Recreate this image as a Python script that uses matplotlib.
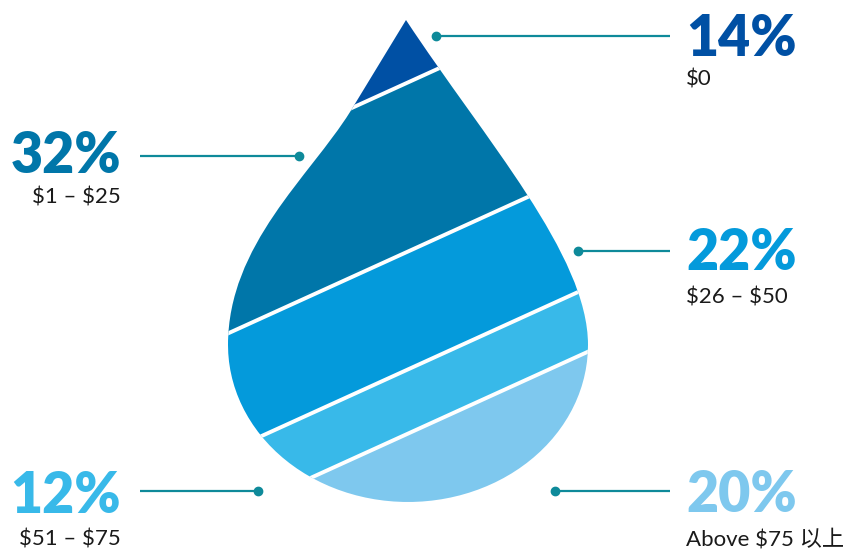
import numpy as np
import matplotlib.pyplot as plt
from matplotlib.path import Path
from matplotlib.patches import PathPatch, Polygon

# DATOS
shares = [14, 32, 22, 12, 20]
ranges = ['$0', '$1 – $25', '$26 – $50', '$51 – $75', 'Above $75 以上']
colors = ['#0050A4', '#0076A9', '#049ADB', '#38B9E9', '#7EC8EE']

teal = '#0E8A9A'
big_font = ['Lato', 'DejaVu Sans']
small_font = ['Lato', 'Noto Sans CJK SC', 'DejaVu Sans']

fig = plt.figure(figsize=(8.5, 5.51), dpi=100)
ax = fig.add_axes([0, 0, 1, 1])
ax.set_xlim(0, 850)
ax.set_ylim(551, 0)
ax.axis('off')

# FORMA DE LA GOTA (coordenadas en pixeles)
cx, cy, rx, ry = 408, 345, 180, 157
tip = (406, 20)
theta = np.linspace(np.pi, 0, 60)
arc = np.column_stack([cx + rx*np.cos(theta), cy + ry*np.sin(theta)])

verts = [tip, (350, 112), (310, 176), (228, 245), (228, 345)]
codes = [Path.MOVETO, Path.LINETO, Path.CURVE4, Path.CURVE4, Path.CURVE4]
for p in arc[1:]:
    verts.append(tuple(p))
    codes.append(Path.LINETO)
verts += [(588, 255), (485, 140), tip, tip]
codes += [Path.CURVE4, Path.CURVE4, Path.CURVE4, Path.CLOSEPOLY]
drop = PathPatch(Path(verts, codes), facecolor='none', edgecolor='none')
ax.add_patch(drop)

# FRANJAS INCLINADAS
slope = -0.455
cuts = [-2000, 82.4, 251.5, 369.4, 433.6, 3000]

def yline(b, x):
    return b + slope*(x - cx)

for i in range(5):
    b0, b1 = cuts[i], cuts[i+1]
    poly = Polygon([(0, yline(b0, 0)), (850, yline(b0, 850)),
                    (850, yline(b1, 850)), (0, yline(b1, 0))],
                   closed=True, facecolor=colors[i], edgecolor='none')
    ax.add_patch(poly)
    poly.set_clip_path(drop)

for b in cuts[1:-1]:
    ln, = ax.plot([0, 850], [yline(b, 0), yline(b, 850)], color='white', lw=2.8)
    ln.set_clip_path(drop)

# LINEAS GUIA
leaders = [((436, 670), 36, 436), ((140, 299), 156, 299), ((578, 670), 251, 578),
           ((140, 258), 491, 258), ((555, 670), 491, 555)]
for (x0, x1), y, xd in leaders:
    ax.plot([x0, x1], [y, y], color=teal, lw=1.6, solid_capstyle='butt')
    ax.plot(xd, y, 'o', color=teal, ms=6)

# TEXTOS
pos = [(686, 56, 86, 'left'), (121, 173, 203, 'right'), (686, 270, 303, 'left'),
       (121, 513, 546, 'right'), (686, 512, 545, 'left')]
for i, (x, yb, ys, ha) in enumerate(pos):
    ax.text(x, yb, f'{shares[i]}%', color=colors[i], fontsize=40, fontweight='heavy',
            family=big_font, ha=ha, va='baseline')
    ax.text(x, ys, ranges[i], color='#1a1a1a', fontsize=16, family=small_font,
            ha=ha, va='baseline', parse_math=False)

plt.savefig('out.png', dpi=100)
